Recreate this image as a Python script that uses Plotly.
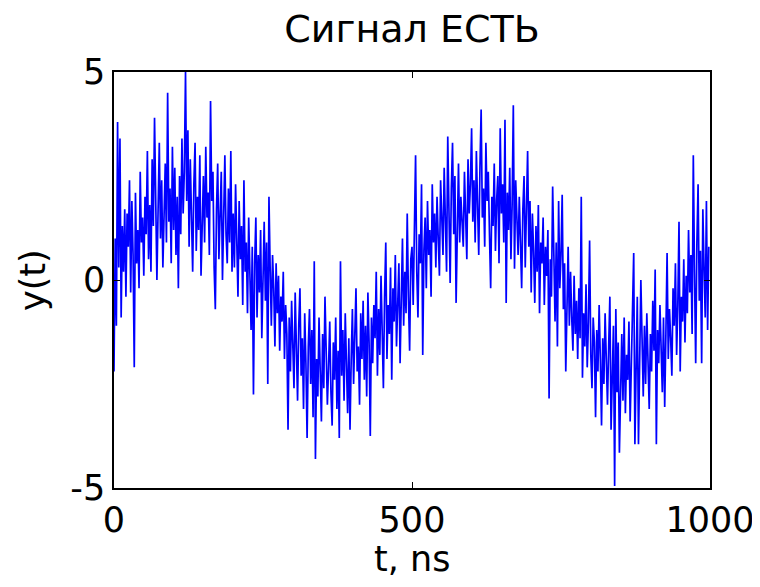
import plotly.graph_objects as go

# time axis, ns (sample step 2 ns)
t_ns = list(range(0, 1000, 2))

y_0_98 = [-2.2, 1.0, -1.1, 3.8, 0.3, 3.4, -0.9, 1.3, 0.2, 1.7,
          -0.4, 1.6, 0.8, 2.4, -0.3, 1.9, 0.6, -2.1, 2.1, 0.4,
          1.2, -0.2, 2.6, 0.9, 1.5, 0.1, 2.0, 1.1, 3.1, 0.5,
          1.8, 0.2, 2.9, 1.3, 3.9, 2.2, 0.0, 1.7, 3.3, 1.0,
          2.4, 0.3, 1.9, 2.8, 0.9, 4.5, 1.4, 2.2, 0.4, 3.2]
y_100_198 = [1.2, 2.7, 0.6, 2.0, -0.2, 2.5, 1.1, 3.4, 1.6, 2.6,
             5.0, 1.9, 3.6, 0.8, 2.9, 1.4, 0.2, 2.3, 3.3, 0.7,
             2.0, 1.2, 3.0, 0.1, 1.8, 2.5, 0.9, 3.2, 1.5, 2.1,
             0.6, 4.3, 1.9, 2.6, 0.3, -0.7, 1.7, 2.8, 0.5, 1.4,
             2.6, 0.0, 1.9, 3.0, 1.1, 0.4, 2.2, 0.9, 3.1, 0.2]
y_200_298 = [1.6, 0.3, 2.3, 0.8, -0.4, 1.9, 0.5, 1.3, -0.6, 2.4,
             0.2, 0.9, -0.8, 1.5, 0.1, -1.2, 0.8, -2.75, 0.4, 1.5,
             -0.9, 0.6, -0.3, 1.2, -1.4, 0.5, 1.4, -0.5, 0.9, -2.5,
             2.0, 0.3, -1.1, 0.6, -0.2, -1.6, 0.4, -0.8, 0.1, -1.7,
             -0.4, -1.0, 0.2, -1.9, -0.6, -1.3, -3.6, -0.9, -2.2, -0.5]
y_300_398 = [-1.5, -2.6, -0.3, -1.8, -2.9, -1.1, -0.2, -2.3, -1.4, -3.1,
             -0.8, -2.0, -3.8, -1.6, -0.7, -2.5, -1.2, -3.3, 0.45, -4.3,
             -1.9, -2.8, -0.9, -2.2, -3.4, -1.3, -2.6, -0.4, -1.8, -3.0,
             -2.1, -1.0, -2.7, -3.5, -1.5, -2.4, -0.9, -3.1, -1.7, -3.8,
             0.45, -2.3, -1.2, -2.9, -0.8, -2.0, -3.2, -1.4, -3.6, -1.9]
y_400_498 = [-0.7, -2.5, -1.3, -0.2, -2.2, -1.6, -3.0, -0.8, -1.9, -0.5,
             -2.4, -1.1, -2.8, -0.3, -1.5, -3.75, -0.9, -2.0, -0.6, -1.4,
             0.2, -2.3, -0.7, -1.8, 0.1, -1.2, -2.6, -0.4, 0.9, -1.9,
             -0.6, -1.3, 0.3, -2.4, -0.2, -1.0, 0.6, -1.6, -0.3, 0.4,
             -2.0, -0.5, 1.0, -1.1, 0.2, -0.8, 1.6, -0.4, -1.7, 0.5]
y_500_598 = [0.8, -0.6, 1.4, 3.0, 0.2, -0.9, 1.1, 0.4, 2.3, -1.8,
             0.7, 1.5, -0.2, 1.9, 0.6, 1.2, -0.4, 2.3, 0.9, 1.6,
             0.3, 2.0, 1.0, 0.1, 2.4, 1.3, 0.6, 2.7, 1.5, 0.2,
             3.45, 1.8, -0.07, 2.2, 3.3, 1.1, 2.5, -0.55, 1.7, 2.8,
             0.9, 2.0, 1.4, 0.8, 2.6, 1.2, 0.5, 2.9, 1.6, 2.3]
y_600_698 = [3.65, 1.4, 2.4, 0.9, 3.1, 1.8, 0.6, 2.7, 4.1, 1.5,
             2.2, 0.8, 3.3, 1.9, 2.6, 1.1, -0.2, 2.0, 1.3, 2.8,
             0.7, 1.9, 2.5, 0.4, 3.65, 1.6, 2.3, 0.9, 3.85, -0.55,
             2.1, 1.2, 2.7, 0.5, 1.8, 4.2, 0.27, 2.4, 1.4, 0.6,
             2.0, 1.1, -0.2, 1.7, 2.5, 0.3, 1.5, 3.1, 0.8, 1.9]
y_700_798 = [-0.3, 1.6, 0.7, -0.55, 1.3, 0.2, 1.8, -0.8, 0.9, 0.4,
             1.5, -0.6, 0.8, 0.1, 1.2, -2.85, 0.5, -0.4, 2.25, 0.3,
             -1.0, 0.9, -1.6, 1.9, -0.2, 0.6, 2.05, -0.7, 0.4, -2.2,
             -0.3, 0.8, -1.1, 0.2, -0.9, -1.7, 0.1, -1.3, -0.5, -1.9,
             -0.2, -1.4, 2.0, -2.35, -0.8, -1.6, -0.1, -2.1, -1.0, 0.95]
y_800_898 = [-1.8, -2.6, -0.9, -1.5, -3.3, -1.2, -2.2, -0.6, -1.9, -3.5,
             -1.4, -2.5, -0.8, -2.0, -3.0, -1.6, -0.4, -3.6, -2.3, -1.1,
             -4.95, -0.7, -2.7, -1.5, -4.15, -2.1, -1.3, -2.9, -0.9, -3.2,
             -1.8, -2.4, -1.0, -3.4, -2.0, -0.65, 0.65, -3.95, -1.7, -0.4,
             -3.95, -2.2, 0.0, -1.4, -2.8, -1.1, -2.5, -0.8, -1.9, -3.1]
y_900_998 = [-1.3, -2.2, -0.5, -1.7, 0.25, -3.95, -1.2, -2.0, -0.6, -1.5,
             -2.7, -0.9, -3.05, -1.3, 0.65, -1.9, -0.7, -1.4, -2.3, -0.2,
             -1.1, 0.4, -1.8, -0.6, 1.4, -2.2, -0.4, -1.0, 0.5, -1.5,
             0.1, -0.8, 1.2, -0.3, 0.6, -1.3, 3.0, 0.2, -2.0, 0.9,
             2.3, -0.5, 0.7, -2.0, 1.7, 0.3, -0.9, 1.9, -1.2, 0.8]

y_vals = (y_0_98 + y_100_198 + y_200_298 + y_300_398 + y_400_498 +
          y_500_598 + y_600_698 + y_700_798 + y_800_898 + y_900_998)

title_text = "Сигнал ЕСТЬ"
x_title = "t, ns"
y_title = "y(t)"
x_ticks = [0, 500, 1000]
x_tick_labels = ["0", "500", "1000"]
y_ticks = [-5, 0, 5]
y_tick_labels = ["-5", "0", "5"]

FONT = "DejaVu Sans, Liberation Sans, Arial, sans-serif"
FS = 35

# page body has an 8 px margin: figure is 752x579 placed at (8, 8)
W, H = 752, 579
L, R, T, B = 106, 50, 64, 99
PH = H - T - B
PW = W - L - R

fig = go.Figure()
fig.add_trace(go.Scatter(x=t_ns, y=y_vals, mode="lines",
                         line=dict(color="#0000FF", width=1.7),
                         showlegend=False, hoverinfo="skip"))

fig.update_layout(
    width=W, height=H,
    margin=dict(l=L, r=R, t=T, b=B, autoexpand=False),
    paper_bgcolor="white", plot_bgcolor="white",
    font=dict(family=FONT, size=FS, color="black"),
    title=dict(text=title_text, x=0.5, xref="paper", xanchor="center",
               y=1 - 21 / H, yref="container", yanchor="middle",
               automargin=False,
               font=dict(family=FONT, size=38, color="black")),
    annotations=[
        dict(text=x_title, x=0.5, xref="paper", y=-71 / PH, yref="paper",
             xanchor="center", yanchor="middle", showarrow=False,
             font=dict(family=FONT, size=FS, color="black")),
        dict(text=y_title, x=-81 / PW, xref="paper", y=0.5, yref="paper",
             xanchor="center", yanchor="middle", showarrow=False, textangle=-90,
             font=dict(family=FONT, size=FS, color="black")),
    ],
)
fig.update_xaxes(range=[0, 1000], tickvals=x_ticks, ticktext=x_tick_labels,
                 ticks="inside", ticklen=6, tickcolor="black",
                 showline=True, linecolor="black", linewidth=1.5,
                 mirror="ticks", showgrid=False, zeroline=False, automargin=False,
                 tickfont=dict(family=FONT, size=FS))
fig.update_yaxes(range=[-5, 5], tickvals=y_ticks, ticktext=y_tick_labels,
                 ticks="inside", ticklen=6, tickcolor="black",
                 showline=True, linecolor="black", linewidth=1.5,
                 mirror="ticks", showgrid=False, zeroline=False, automargin=False,
                 tickfont=dict(family=FONT, size=FS))

fig.write_html("out.html")
